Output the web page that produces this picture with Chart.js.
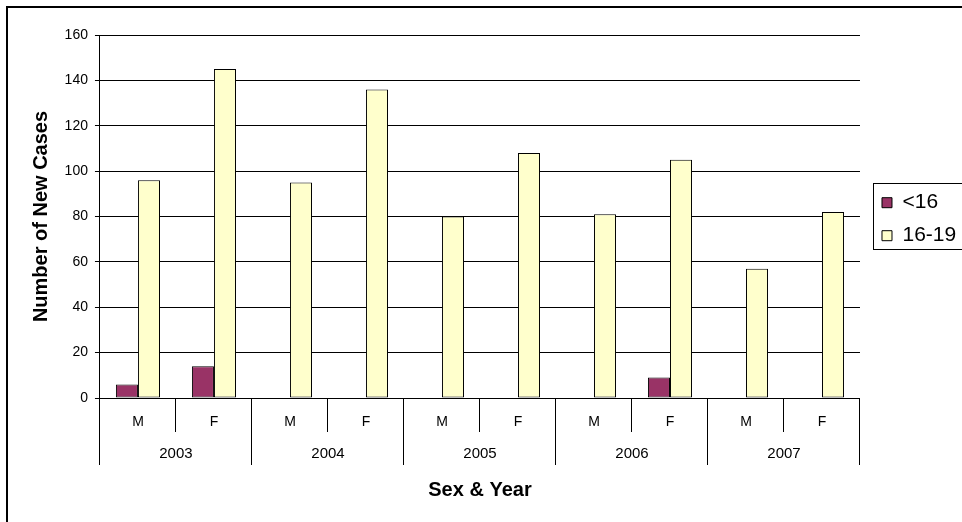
<!DOCTYPE html>
<html lang="en">
<head>
<meta charset="UTF-8" />
<title>New Cases by Sex & Year</title>
<script src="https://cdn.jsdelivr.net/npm/chart.js"></script>
<style>
  html, body { margin: 0; padding: 0; background: #fff; overflow: hidden; }
  .frame { position: absolute; left: 6px; top: 6px; width: 2000px; height: 2000px; border: 2px solid #000; }
  #chart { position: absolute; left: 0; top: 0; }
</style>
</head>
<body>
<div class="frame"></div>
<canvas id="chart" width="962" height="522"></canvas>
<script>
  // data
  const sexLabels = ["M", "F", "M", "F", "M", "F", "M", "F", "M", "F"];
  const years = ["2003", "2004", "2005", "2006", "2007"];
  const under16 = [6, 14, 0, 0, 0, 0, 0, 9, 0, 0];
  const age16to19 = [96, 145, 95, 136, 80, 108, 81, 105, 57, 82];
  const yTicks = [0, 20, 40, 60, 80, 100, 120, 140, 160];

  const FONT = "'Liberation Sans', Arial, sans-serif";

  // border round the legend, like the excel one
  const legendBox = {
    id: "legendBox",
    afterDraw(chart) {
      const lg = chart.legend;
      const hb = lg.legendHitBoxes;
      if (!hb || !hb.length) return;
      const ctx = chart.ctx;
      const last = hb[hb.length - 1];
      const top = Math.round(hb[0].top - 9) + 0.5;
      const bottom = Math.round(last.top + last.height + 3) + 0.5;
      const left = Math.round(lg.left + 3) + 0.5;
      ctx.save();
      ctx.strokeStyle = "#000";
      ctx.lineWidth = 1;
      ctx.strokeRect(left, top, chart.width + 10 - left, bottom - top);
      ctx.restore();
    }
  };

  new Chart(document.getElementById("chart"), {
    type: "bar",
    data: {
      labels: sexLabels,
      datasets: [
        {
          label: "<16",
          data: under16,
          backgroundColor: "#993366",
          borderColor: "#000",
          borderWidth: 1,
          borderSkipped: false,
          categoryPercentage: 0.58,
          barPercentage: 1.0,
        },
        {
          label: "16-19",
          data: age16to19,
          backgroundColor: "#FFFFCC",
          borderColor: "#000",
          borderWidth: 1,
          borderSkipped: false,
          categoryPercentage: 0.58,
          barPercentage: 1.0,
        },
      ],
    },
    options: {
      responsive: false,
      animation: false,
      layout: { padding: { left: 21.6, right: -4.2, top: 35, bottom: 20 } },
      plugins: {
        tooltip: { enabled: false },
        legend: {
          position: "right",
          fullSize: false,
          title: { display: true, text: " ", font: { size: 4.5 }, padding: 0 },
          labels: {
            color: "#000",
            font: { family: FONT, size: 21 },
            boxWidth: 10,
            boxHeight: 10,
            padding: 12,
          },
        },
      },
      scales: {
        // sex row: labels sit between the short tick lines
        x: {
          type: "category",
          position: "bottom",
          weight: 0,
          grid: { offset: true, drawOnChartArea: false, tickLength: 34, color: "#000" },
          border: { display: true, color: "#000" },
          ticks: { color: "#000", font: { family: FONT, size: 14 }, padding: -18.7, maxRotation: 0, autoSkip: false },
          afterFit: (s) => { s.height = 34; },
        },
        // year row
        x2: {
          type: "category",
          position: "bottom",
          weight: 1,
          display: true,
          labels: years,
          grid: { offset: true, drawOnChartArea: false, tickLength: 33, color: "#000" },
          border: { display: false },
          ticks: { color: "#000", font: { family: FONT, size: 15 }, padding: -20, maxRotation: 0 },
          title: {
            display: true,
            text: "Sex & Year",
            color: "#000",
            font: { family: FONT, size: 20, weight: "bold" },
            padding: { top: 0, bottom: 0 },
          },
          afterFit: (s) => { s.height = 70; },
        },
        y: {
          min: 0,
          max: 160,
          afterBuildTicks: (s) => { s.ticks = yTicks.map((v) => ({ value: v })); },
          grid: { color: "#000", tickLength: 5 },
          border: { display: true, color: "#000" },
          ticks: { color: "#000", font: { family: FONT, size: 14 }, padding: 7 },
          title: {
            display: true,
            text: "Number of New Cases",
            color: "#000",
            font: { family: FONT, size: 20, weight: "bold" },
            padding: { top: 7.4, bottom: 4.6 },
          },
        },
        // gap between plot and legend
        yR: {
          type: "linear",
          position: "right",
          display: true,
          grid: { display: false },
          border: { display: false },
          ticks: { display: false },
          afterFit: (s) => { s.width = 10; },
        },
      },
    },
    plugins: [legendBox],
  });
</script>
</body>
</html>
